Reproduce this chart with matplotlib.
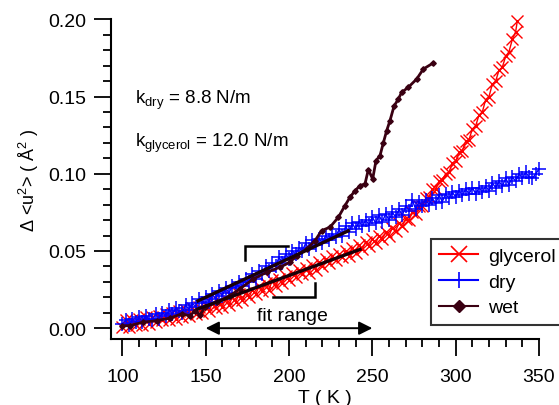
import numpy as np
import matplotlib
matplotlib.use("Agg")
import matplotlib.pyplot as plt
from matplotlib.lines import Line2D
from matplotlib.ticker import MultipleLocator, FormatStrFormatter

plt.rcParams['font.family'] = ['Liberation Sans', 'DejaVu Sans']
plt.rcParams['mathtext.default'] = 'regular'

# glycerol (червоні хрестики)
t_gly = [100, 102, 104, 106, 108, 110, 112, 114, 116, 118, 120, 122, 124, 126, 128, 130,
         132, 134, 136, 138, 140, 142, 144, 146, 148, 150, 152, 154, 156, 158, 160, 162,
         164, 166, 168, 170, 172, 174, 176, 178, 180, 182, 184, 186, 188, 190, 192, 194,
         196, 198, 200, 202, 204, 206, 208, 210, 212, 214, 216, 218, 220, 222, 224, 226,
         228, 230, 232, 234, 236, 238, 240, 242, 244, 246, 248, 250, 252, 254, 256, 258,
         260, 262, 264, 266, 268, 270, 272, 274, 276, 278, 280, 282, 284, 286, 288, 290,
         292, 294, 296, 298, 300, 302, 304, 306, 308, 310, 312, 314, 316, 318, 320, 322,
         324, 326, 328, 330, 332, 334, 336, 337]
u_gly = [.001, .005, .001, .005, .002, .006, .002, .007, .003, .007, .004, .008, .005, .009, .005, .010,
         .006, .011, .007, .012, .008, .013, .009, .014, .010, .015, .011, .016, .013, .017, .014, .019,
         .015, .020, .017, .022, .018, .023, .020, .025, .022, .027, .024, .029, .025, .031, .027, .032,
         .029, .034, .031, .036, .033, .038, .035, .039, .036, .041, .038, .043, .040, .045, .042, .047,
         .044, .048, .046, .050, .047, .052, .049, .054, .051, .056, .053, .058, .055, .060, .058, .062,
         .060, .065, .063, .068, .066, .071, .070, .075, .074, .079, .079, .084, .085, .090, .090, .095,
         .096, .100, .101, .107, .108, .114, .115, .121, .122, .129, .131, .138, .140, .148, .150, .158,
         .160, .167, .169, .176, .179, .187, .192, .199]

# dry (сині плюси)
t_dry = [100, 102, 104, 106, 108, 110, 112, 114, 116, 118, 120, 122, 124, 126, 128, 130,
         132, 134, 136, 138, 140, 142, 144, 146, 148, 150, 152, 154, 156, 158, 160, 162,
         164, 166, 168, 170, 172, 174, 176, 178, 180, 182, 184, 186, 188, 190, 192, 194,
         196, 198, 200, 202, 204, 206, 208, 210, 212, 214, 216, 218, 220, 222, 224, 226,
         228, 230, 232, 234, 236, 238, 240, 242, 244, 246, 248, 250, 252, 254, 256, 258,
         260, 262, 264, 266, 268, 270, 272, 274, 276, 278, 280, 282, 284, 286, 288, 290,
         292, 294, 296, 298, 300, 302, 304, 306, 308, 310, 312, 314, 316, 318, 320, 322,
         324, 326, 328, 330, 332, 334, 336, 338, 340, 342, 344, 346, 348, 350]
u_dry = [.003, .005, .002, .006, .004, .007, .004, .008, .006, .005, .009, .006, .010, .008, .012, .009,
         .013, .011, .010, .015, .012, .016, .014, .019, .016, .020, .017, .022, .019, .024, .021, .026,
         .023, .027, .026, .030, .027, .032, .030, .035, .032, .037, .035, .040, .037, .042, .040, .046,
         .042, .048, .045, .050, .048, .052, .050, .055, .051, .057, .054, .058, .055, .060, .057, .061,
         .059, .064, .060, .066, .062, .068, .064, .069, .066, .070, .067, .072, .068, .073, .069, .074,
         .070, .075, .072, .077, .073, .079, .076, .083, .077, .082, .079, .083, .080, .084, .081, .086,
         .082, .087, .084, .088, .085, .089, .086, .090, .087, .091, .087, .091, .088, .092, .089, .094,
         .091, .095, .092, .097, .093, .098, .095, .100, .097, .101, .098, .097, .100, .103]

# wet (темні ромбики)
t_wet = [100, 104.5, 112.6, 120.6, 128.6, 135.6, 140.6, 143.6, 146.6, 149.6, 156.6, 164.6,
         170.6, 178.6, 186.6, 194.6, 200.6, 204.6, 210.6, 215.6, 219.6, 224.6, 229.6, 233.6,
         236.6, 239.6, 242.6, 245.6, 247.6, 250.2, 252.2, 254.6, 256.6, 258.6, 260.6, 263,
         265.6, 267.6, 271.6, 276.6, 280.6, 286.5]
u_wet = [.0015, .0017, .0039, .0049, .0065, .0093, .0080, .0114, .0085, .0136, .0168, .0211,
         .0255, .0319, .0362, .0395, .0427, .0470, .0513, .0567, .0632, .0654, .0718, .0794,
         .0848, .0890, .0923, .0934, .1027, .0966, .1085, .1117, .1200, .1279, .1344, .1437,
         .1484, .1527, .1560, .1613, .1678, .1717]

# лінійні фіти
fit_dry_t = [145.4, 235.5]
fit_dry_u = [0.0177, 0.0630]
fit_gly_t = [145.4, 242.6]
fit_gly_u = [0.0125, 0.0510]

# дужки діапазону фіту
br_up_t = [173.6, 173.6, 199.4]
br_up_u = [0.0444, 0.0535, 0.0535]
br_lo_t = [190.4, 215.6, 215.6]
br_lo_u = [0.0201, 0.0201, 0.0293]

wet_col = '#3a0012'

fig = plt.figure(figsize=(5.59, 4.06), dpi=100)
ax = fig.add_axes([111/559, 66/406, 428/559, 319.7/406])

ax.plot(t_gly, u_gly, color='red', lw=1, marker='x', ms=8.5, mew=1, clip_on=False)
ax.plot(t_dry, u_dry, color='blue', lw=1, marker='+', ms=9.5, mew=1.1, clip_on=False)
ax.plot(t_wet, u_wet, color=wet_col, lw=2, marker='D', ms=2.8, clip_on=False)

ax.plot(fit_dry_t, fit_dry_u, color='#1a0008', lw=2.4)
ax.plot(fit_gly_t, fit_gly_u, color='#1a0008', lw=2.4)
ax.plot(br_up_t, br_up_u, color='black', lw=1.8, solid_joinstyle='miter')
ax.plot(br_lo_t, br_lo_u, color='black', lw=1.8, solid_joinstyle='miter')

ax.annotate('', xy=(150, 0.0), xytext=(250, 0.0),
            arrowprops=dict(arrowstyle='<|-|>', color='black', lw=1.4,
                            mutation_scale=20, shrinkA=0, shrinkB=0))
ax.text(202, 0.0085, 'fit range', ha='center', va='center', fontsize=14)

ax.text(107.5, 0.148, 'k$_{dry}$ = 8.8 N/m', ha='left', va='center', fontsize=13.5)
ax.text(107.5, 0.120, 'k$_{glycerol}$ = 12.0 N/m', ha='left', va='center', fontsize=13.5)

ax.set_xlim(93.2, 350)
ax.set_ylim(-0.007, 0.20)
ax.spines['top'].set_visible(False)
ax.spines['right'].set_visible(False)
ax.spines['left'].set_linewidth(1.5)
ax.spines['bottom'].set_linewidth(1.5)

ax.xaxis.set_major_locator(MultipleLocator(50))
ax.xaxis.set_minor_locator(MultipleLocator(10))
ax.yaxis.set_major_locator(MultipleLocator(0.05))
ax.yaxis.set_minor_locator(MultipleLocator(0.01))
ax.yaxis.set_major_formatter(FormatStrFormatter('%.2f'))
ax.tick_params(which='major', direction='out', length=12, width=1.3, labelsize=14)
ax.tick_params(which='minor', direction='out', length=6, width=1.3)
ax.tick_params(axis='x', which='major', pad=9)
ax.tick_params(axis='y', which='major', pad=6)

ax.set_xlabel('T ( K )', fontsize=14, labelpad=3)
ax.set_ylabel('Δ <u$^{2}$> ( Å$^{2}$ )', fontsize=13, labelpad=5)

handles = [
    Line2D([], [], color='red', lw=1.5, marker='x', ms=11, mew=1.2),
    Line2D([], [], color='blue', lw=1.5, marker='+', ms=12, mew=1.2),
    Line2D([], [], color=wet_col, lw=1.5, marker='D', ms=6),
]
leg = ax.legend(handles, ['glycerol', 'dry', 'wet'], loc='upper left',
                bbox_to_anchor=((431 - 111) / 428, (340 - 240) / 319.7),
                borderaxespad=0, fontsize=14, frameon=True, fancybox=False,
                handlelength=2.0, handletextpad=0.5, labelspacing=0.42,
                borderpad=0.42)
leg.get_frame().set_edgecolor('black')
leg.get_frame().set_linewidth(1.5)
leg.set_clip_on(False)

fig.savefig('out.png', dpi=100)
